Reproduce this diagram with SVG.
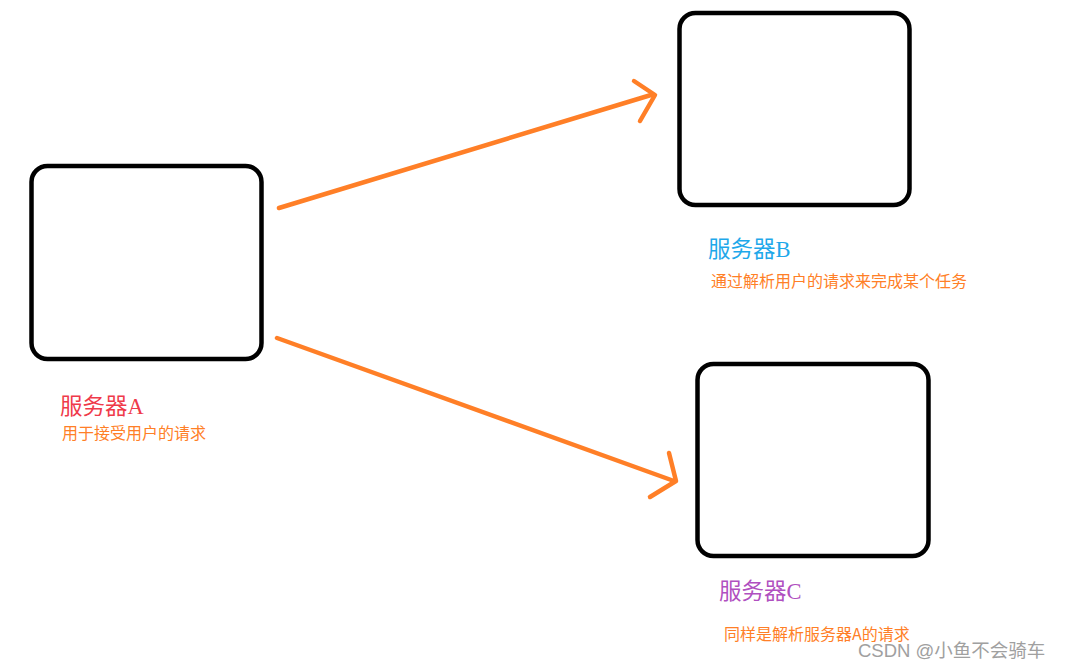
<svg xmlns="http://www.w3.org/2000/svg" width="1065" height="668" viewBox="0 0 1065 668">
<style>
.box{fill:#fff;stroke:#000;stroke-width:4.5}
.conn{fill:none;stroke:#ff7f27;stroke-width:4.5;stroke-linecap:round;stroke-linejoin:round}
.title{font-family:"Liberation Serif","Noto Sans CJK SC",serif;font-size:22.5px}
.note{font-family:"Noto Sans CJK SC",sans-serif;font-size:16px;fill:#ff7f27}
.wm{font-family:"Liberation Sans","Noto Sans CJK SC",sans-serif;font-size:18.5px;fill:#a0a0a0}
</style>
<rect x="0" y="0" width="1065" height="668" fill="#fff"/>
<g id="serverA">
<rect class="box" x="31.5" y="166" width="230" height="193" rx="16"/>
<text class="title" x="60" y="414" fill="#ef3a4a">服务器A</text>
<text class="note" x="62" y="439">用于接受用户的请求</text>
</g>
<g id="serverB">
<rect class="box" x="679.5" y="13" width="230" height="192" rx="16"/>
<text class="title" x="708" y="257" fill="#1ea8ea">服务器B</text>
<text class="note" x="711" y="287">通过解析用户的请求来完成某个任务</text>
</g>
<g id="serverC">
<rect class="box" x="697.5" y="364" width="231" height="192" rx="16"/>
<text class="title" x="719" y="599" fill="#b050c0">服务器C</text>
<text class="note" x="724" y="640">同样是解析服务器A的请求</text>
</g>
<g id="connectors">
<path class="conn" d="M279,208 L651,95"/>
<path class="conn" d="M634,81 L655,95 L640,121"/>
<path class="conn" d="M277,338 L674,481"/>
<path class="conn" d="M669,453 L676,481 L650,497"/>
</g>
<text class="wm" x="858" y="657">CSDN @小鱼不会骑车</text>
</svg>
